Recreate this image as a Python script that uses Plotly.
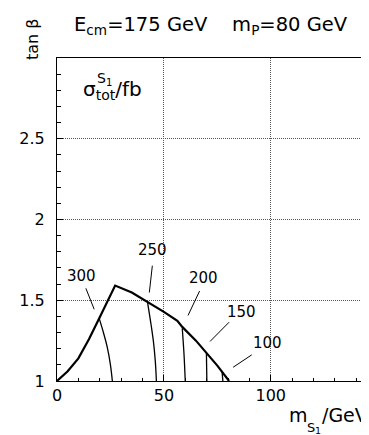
import plotly.graph_objects as go

# Boundary of allowed region (tan beta vs m_S1)
boundary_x = [0, 5, 10, 15, 20, 24, 27.2, 35, 42.3, 50, 56.3, 58.6, 65, 70, 75, 80.5]
boundary_y = [1.0, 1.06, 1.14, 1.26, 1.395, 1.50, 1.591, 1.548, 1.492, 1.428, 1.372, 1.335, 1.25, 1.173, 1.095, 1.0]

# Contour lines of sigma_tot (fb)
contour_values = ["300", "250", "200", "150", "100"]
contour_x = [
    [19.7, 21.5, 23.6, 25.0, 25.9],
    [42.3, 44.0, 45.1, 46.0, 46.5],
    [58.6, 59.4, 60.0],
    [69.9, 70.1],
    [77.2, 77.6],
]
contour_y = [
    [1.389, 1.31, 1.204, 1.10, 1.0],
    [1.492, 1.35, 1.245, 1.12, 1.0],
    [1.327, 1.17, 1.0],
    [1.173, 1.0],
    [1.062, 1.0],
]

# Label positions and leader lines
label_x = [11.4, 44.6, 68.3, 86.3, 98.5]
label_y = [1.65, 1.81, 1.636, 1.428, 1.235]
leader_x = [[13.5, 17.4], [44.6, 43.2], [66.7, 61.3], [80.5, 71.6], [91.1, 82.4]]
leader_y = [[1.574, 1.444], [1.714, 1.548], [1.557, 1.406], [1.364, 1.245], [1.162, 1.085]]

x_ticks = [0, 50, 100]
y_ticks = [1, 1.5, 2, 2.5]
y_tick_text = ["1", "1.5", "2", "2.5"]

FONT = "DejaVu Sans, Liberation Sans, Arial, sans-serif"

# pixel helpers for paper coordinates (plot area: x 49..369, y 50..373)
L, T, B, W = 49, 50, 373, 320
H = B - T


def px(x):
    return (x - L) / W


def py(y):
    return (B - y) / H


fig = go.Figure()

fig.add_trace(go.Scatter(x=boundary_x, y=boundary_y, mode="lines",
                         line=dict(color="black", width=2.2), hoverinfo="skip"))
for cx, cy in zip(contour_x, contour_y):
    fig.add_trace(go.Scatter(x=cx, y=cy, mode="lines", line=dict(color="black", width=1.3, shape="spline"),
                             hoverinfo="skip"))
for lx, ly in zip(leader_x, leader_y):
    fig.add_trace(go.Scatter(x=lx, y=ly, mode="lines", line=dict(color="black", width=1),
                             hoverinfo="skip"))

annotations = []
for t, x, y in zip(contour_values, label_x, label_y):
    annotations.append(dict(x=x, y=y, xref="x", yref="y", text=t, showarrow=False,
                            font=dict(family=FONT, size=15, color="black"),
                            xanchor="center", yanchor="middle"))


def txt(text, x, y, size, xanchor="left", angle=0):
    annotations.append(dict(x=px(x), y=py(y), xref="paper", yref="paper", text=text,
                            showarrow=False, xanchor=xanchor, yanchor="middle", textangle=angle,
                            borderpad=0,
                            font=dict(family=FONT, size=size, color="black")))


# Title
txt("E<sub>cm</sub>=175 GeV&nbsp;&nbsp;&nbsp;&nbsp;m<sub>P</sub>=80 GeV", 65, 18, 19.5)
# y axis title
txt("tan \u03b2", 25, 31, 16, xanchor="center", angle=-90)
# x axis title (pieces)
txt("m", 280, 407.5, 19)
txt("S", 298, 419, 13)
txt("1", 306, 422, 9.5)
txt("/GeV", 313, 407.5, 19)
# sigma label
txt("\u03c3<sub>tot</sub>/fb", 74, 82, 20)
txt("S", 87.5, 70, 14)
txt("1", 96.5, 74.5, 10)

fig.update_layout(
    width=369, height=435,
    margin=dict(l=L, r=0, t=T, b=435 - B),
    paper_bgcolor="white", plot_bgcolor="white",
    showlegend=False,
    annotations=annotations,
    font=dict(family=FONT, size=16, color="black"),
)
fig.update_xaxes(range=[0, 149.7], tickvals=x_ticks, ticktext=[str(v) for v in x_ticks],
                 showline=True, linecolor="black", linewidth=1, mirror=True,
                 ticks="inside", ticklen=6, tickcolor="black",
                 showgrid=True, gridcolor="#555", griddash="1px,1px", gridwidth=1,
                 zeroline=False, tickfont=dict(size=16),
                 minor=dict(dtick=10, tick0=0, ticks="inside", ticklen=3.5, tickcolor="black", showgrid=False))
fig.update_yaxes(range=[1, 3], tickvals=y_ticks, ticktext=y_tick_text,
                 showline=True, linecolor="black", linewidth=1, mirror=False,
                 ticks="inside", ticklen=6, tickcolor="black",
                 showgrid=True, gridcolor="#555", griddash="1px,1px", gridwidth=1,
                 zeroline=False, tickfont=dict(size=16), ticklabelstandoff=8,
                 minor=dict(dtick=0.1, tick0=1, ticks="inside", ticklen=3.5, tickcolor="black", showgrid=False))

fig.write_html("out.html")
